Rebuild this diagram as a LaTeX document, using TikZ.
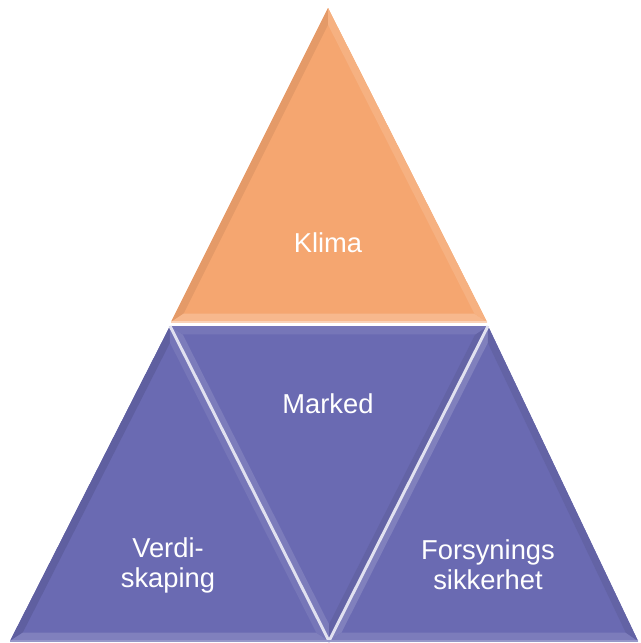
\documentclass[tikz,border=0pt]{standalone}
\usepackage{fontspec}
\setmainfont{Liberation Sans}
\usetikzlibrary{calc}
\definecolor{orng}{RGB}{245,166,112}
\definecolor{blu}{RGB}{106,106,178}
\newcommand\bevtri[7]{%
  \coordinate (bc) at (barycentric cs:#1=1,#2=1,#3=1);
  \coordinate (b1) at ($(#1)!0.08!(bc)$);
  \coordinate (b2) at ($(#2)!0.08!(bc)$);
  \coordinate (b3) at ($(#3)!0.08!(bc)$);
  \fill[#4] (#1)--(#2)--(#3)--cycle;
  \fill[#5] (#1)--(#2)--(b2)--(b1)--cycle;
  \fill[#6] (#2)--(#3)--(b3)--(b2)--cycle;
  \fill[#7] (#3)--(#1)--(b1)--(b3)--cycle;
}
\begin{document}
\begin{tikzpicture}[x=0.75pt,y=-0.75pt,
  lbl/.style={text=white,font=\fontsize{20.5}{22.5}\selectfont,align=center,inner sep=0pt},
  sep/.style={draw=white!80!blu,line width=2.2pt}]
\useasboundingbox (0,0) rectangle (640,643);
\coordinate (A) at (328,8);
\coordinate (OL) at (171,322);
\coordinate (OR) at (487,322);
\coordinate (BL) at (170,326);
\coordinate (BR) at (488,326);
\coordinate (LL) at (10,641);
\coordinate (BM) at (329,641);
\coordinate (RR) at (638,641);
% orange top triangle
\bevtri{A}{OL}{OR}{orng}{orng!93!black}{orng!80!white}{orng!88!white}
% blue triangles
\bevtri{BL}{LL}{BM}{blu}{blu!90!black}{blu!85!white}{blu!92!white}
\bevtri{BL}{BM}{BR}{blu}{blu!88!white}{blu!93!black}{blu!92!white}
\bevtri{BR}{BM}{RR}{blu}{blu!85!white}{blu!88!white}{blu!93!black}
% separators
\draw[draw=orng!50!white,line width=1.5pt] (OL) -- (OR);
\draw[sep] (BL) -- (BM) -- (BR);
\draw[draw=blu!70!white,line width=1pt] (LL) -- (RR);
% labels
\node[lbl] (klima) at (328,243) {Klima};
\node[lbl] (marked) at (328,404) {Marked};
\node[lbl] (verdi) at (168,565) {Verdi-\\skaping};
\node[lbl] (fors) at (488,565) {Forsynings\\sikkerhet};
\end{tikzpicture}
\end{document}
